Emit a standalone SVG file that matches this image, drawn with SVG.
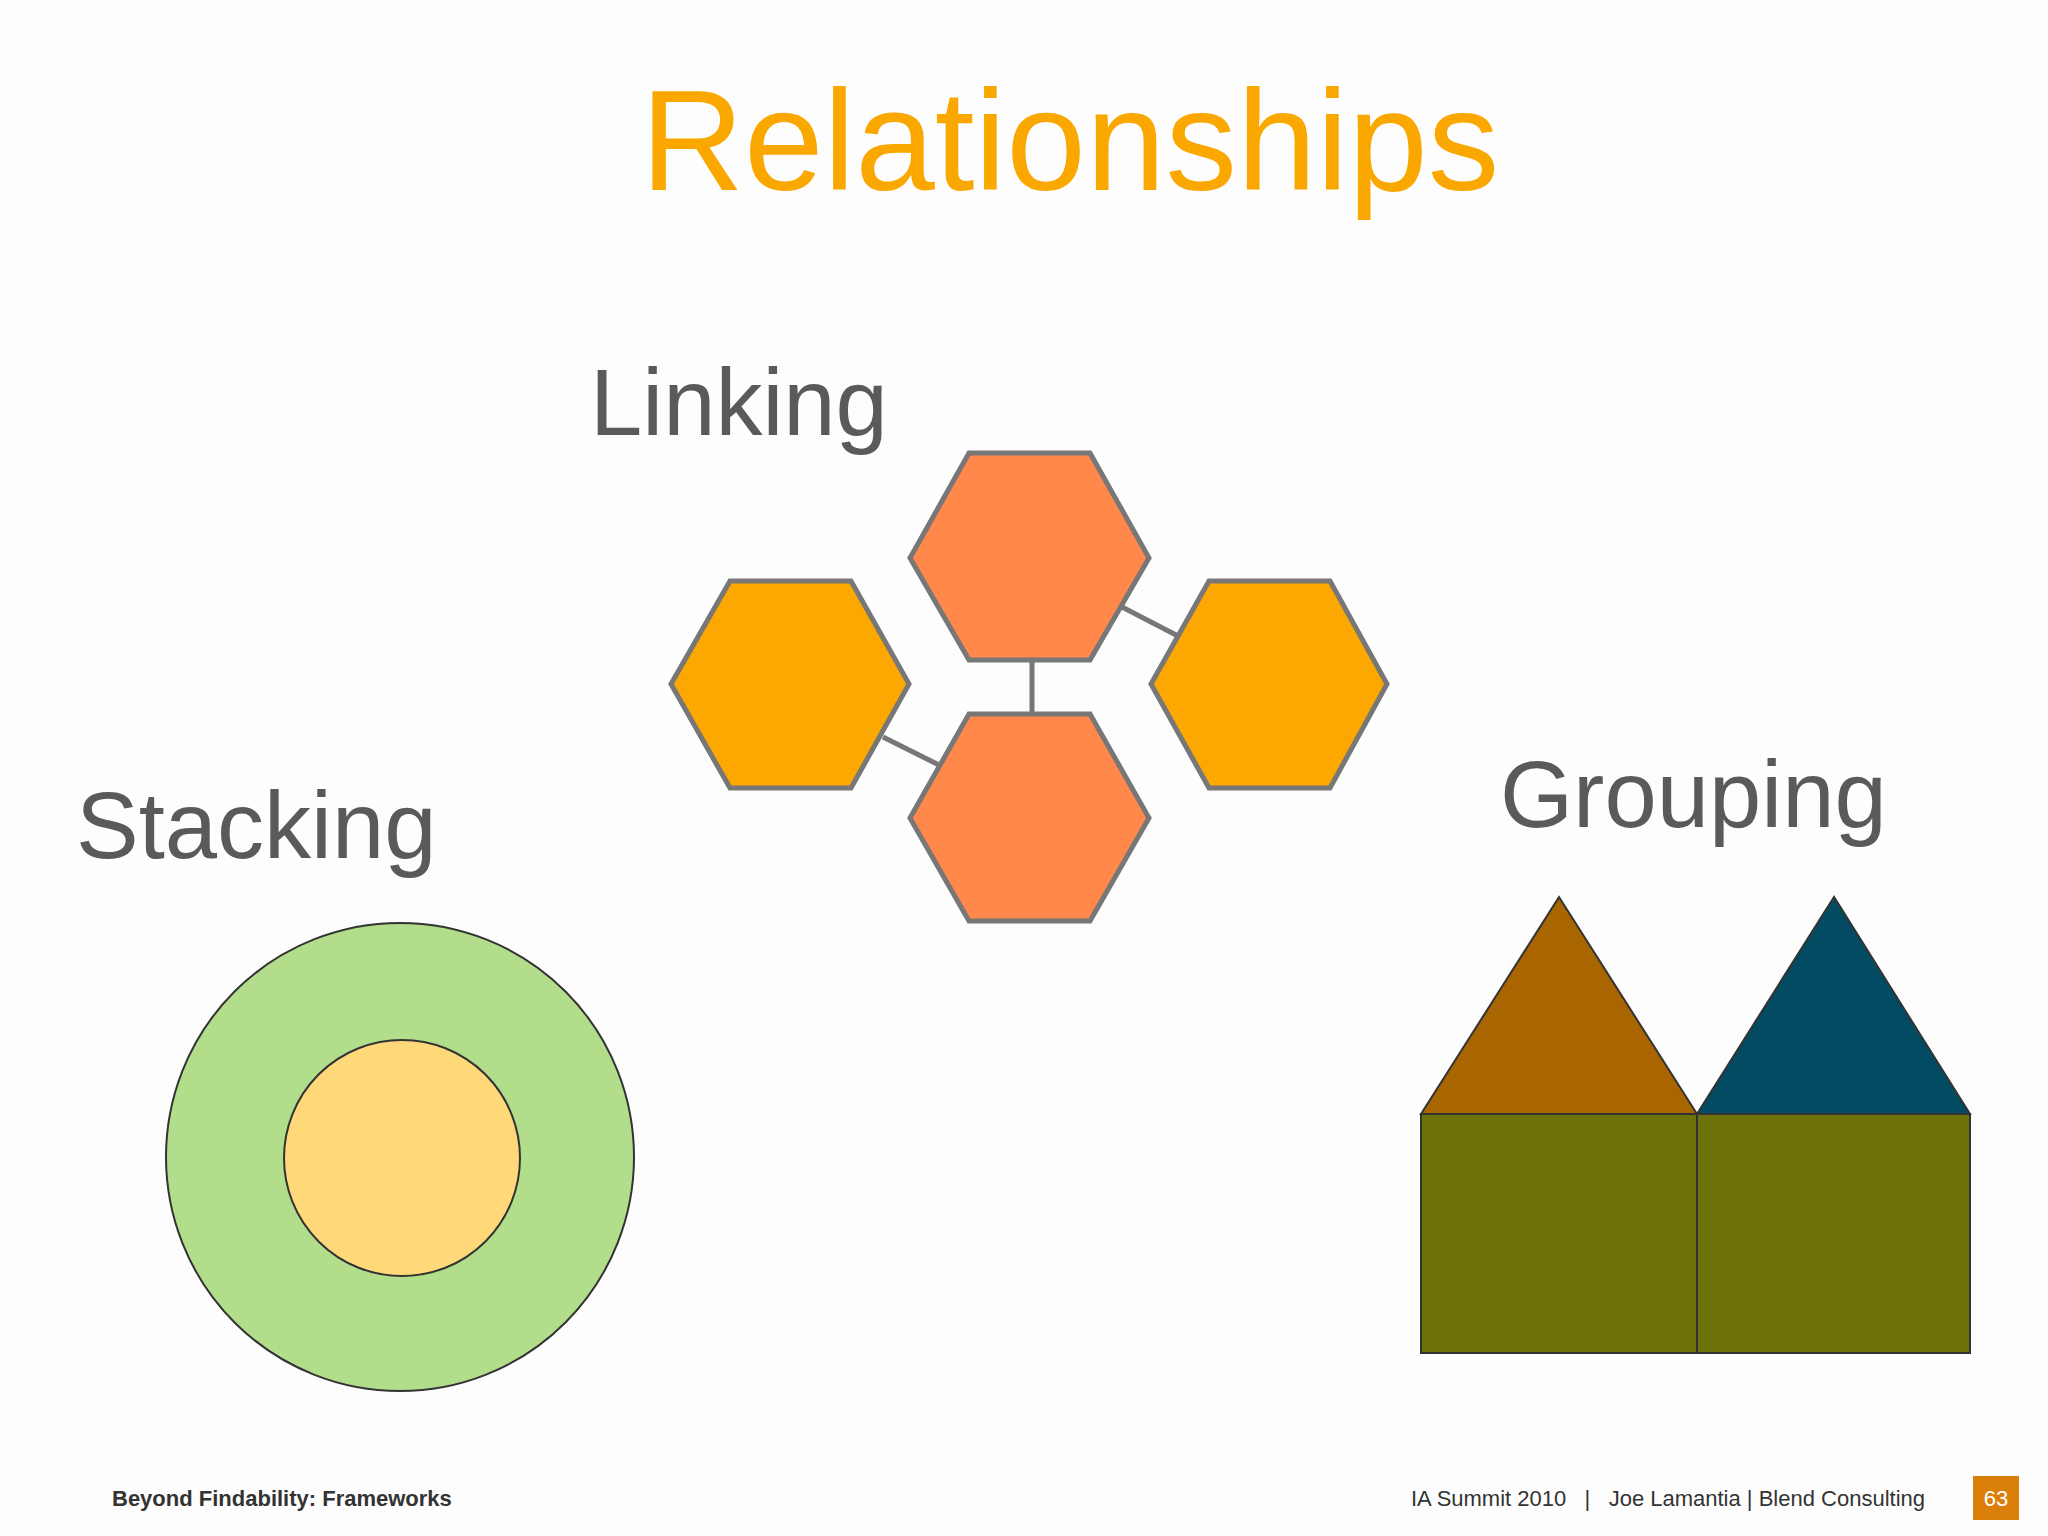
<svg xmlns="http://www.w3.org/2000/svg" width="2048" height="1536" viewBox="0 0 2048 1536">
<style>
text{font-family:"Liberation Sans",Arial,sans-serif}
.lbl{font-size:94px;fill:#5a5a5a}
.hex{stroke:#777;stroke-width:5;stroke-linejoin:miter}
.ln{stroke:#777;stroke-width:5}
.ft{font-size:22px;fill:#333}
.thin{stroke:#333;stroke-width:2}
</style>
<rect width="2048" height="1536" fill="#fdfdfd"/>
<text x="1070" y="190" font-size="143" fill="#FAA700" text-anchor="middle">Relationships</text>
<text class="lbl" x="590" y="435">Linking</text>
<text class="lbl" x="76" y="858">Stacking</text>
<text class="lbl" x="1500" y="827">Grouping</text>
<g id="connectors">
<line class="ln" x1="1032" y1="660" x2="1032" y2="714"/>
<line class="ln" x1="1122" y1="607" x2="1178" y2="636"/>
<line class="ln" x1="883" y1="737" x2="939" y2="765"/>
</g>
<g id="hex-top"><polygon class="hex" fill="#FF884A" points="910,558 969,453 1090,453 1149,558 1090,660 969,660"/></g>
<g id="hex-bottom"><polygon class="hex" fill="#FF884A" points="910,818 969,714 1090,714 1149,818 1090,921 969,921"/></g>
<g id="hex-left"><polygon class="hex" fill="#FCA800" points="671,684 730,581 851,581 909,684 851,788 730,788"/></g>
<g id="hex-right"><polygon class="hex" fill="#FCA800" points="1151,684 1209,581 1330,581 1387,684 1330,788 1209,788"/></g>
<g id="stack">
<circle class="thin" cx="400" cy="1157" r="234" fill="#B2DE8C"/>
<circle class="thin" cx="402" cy="1158" r="118" fill="#FFD87A"/>
</g>
<g id="group">
<polygon class="thin" fill="#A86500" points="1559,897 1421,1114 1697,1114"/>
<polygon class="thin" fill="#034B62" points="1834,897 1697,1114 1970,1114"/>
<rect class="thin" x="1421" y="1114" width="276" height="239" fill="#6E720A"/>
<rect class="thin" x="1697" y="1114" width="273" height="239" fill="#6E720A"/>
</g>
<text class="ft" x="112" y="1506" font-weight="bold">Beyond Findability: Frameworks</text>
<text class="ft" x="1925" y="1506" text-anchor="end" xml:space="preserve">IA Summit 2010   |   Joe Lamantia | Blend Consulting</text>
<rect x="1973" y="1476" width="46" height="44" fill="#D97F0A"/>
<text x="1996" y="1506" font-size="22" fill="#fff" text-anchor="middle">63</text>
</svg>
